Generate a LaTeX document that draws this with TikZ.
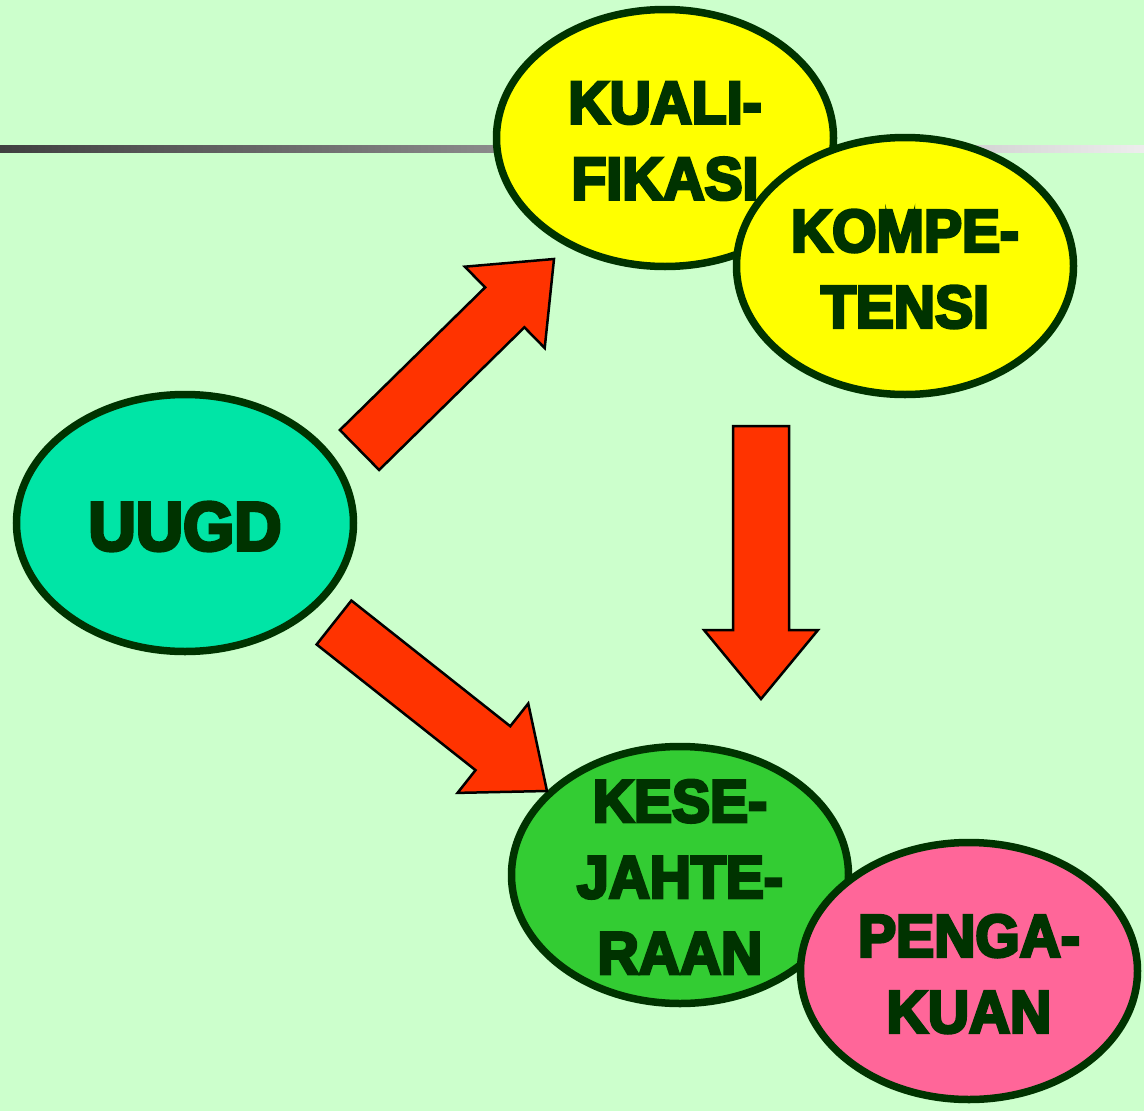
\documentclass[tikz,border=0pt]{standalone}
\usepackage{fontspec}
\usetikzlibrary{shapes.geometric,calc}
\newfontfamily\hurufTebal{Liberation Sans Bold}[FakeStretch=0.95,FakeBold=5]
\definecolor{latar}{HTML}{CCFFCC}
\definecolor{garis}{HTML}{003300}
\definecolor{kuning}{HTML}{FFFF00}
\definecolor{toska}{HTML}{00E5A6}
\definecolor{hijau}{HTML}{33CC33}
\definecolor{jambon}{HTML}{FF6699}
\definecolor{merah}{HTML}{FF3300}
\newcommand{\Panah}[2]{
    \coordinate (pangkal) at ($(#2)!69pt!(#1)$);
    \draw[panah] ($(#1)!28pt!90:(#2)$) -- ($(pangkal)!28pt!-90:(#1)$) -- ($(pangkal)!57pt!-90:(#1)$)
        -- (#2) -- ($(pangkal)!57pt!90:(#1)$) -- ($(pangkal)!28pt!90:(#1)$) -- ($(#1)!28pt!-90:(#2)$) -- cycle;
}
\begin{document}
\begin{tikzpicture}[x=1pt, y=-1pt,
    elips/.style={ellipse, draw=garis, line width=7.5pt, minimum width=337pt, minimum height=257pt, inner sep=0pt},
    teks/.style={text=garis, align=center, inner sep=0pt, font=\hurufTebal\fontsize{60}{76}\selectfont},
    panah/.style={draw=black, line width=2.5pt, fill=merah, line join=miter}]
    \useasboundingbox (0,0) rectangle (1144,1111);
    \fill[latar] (0,0) rectangle (1144,1111);
    \shade[left color=black!75, middle color=black!33, right color=black!7] (0,145) rectangle (1144,152);
    \node[elips, fill=kuning] (kual) at (665,138) {};
    \node[teks] (kual-t) at ($(kual)+(0,3)$) {KUALI-\\FIKASI};
    \node[elips, fill=kuning] (komp) at (905,266) {};
    \node[teks] (komp-t) at ($(komp)+(0,3)$) {KOMPE-\\TENSI};
    \node[elips, fill=toska] (uugd) at (185,523) {};
    \node[teks, font=\hurufTebal\fontsize{69}{80}\selectfont] (uugd-t) at ($(uugd)+(0,3.5)$) {UUGD};
    \node[elips, fill=hijau] (kese) at (680,875) {};
    \node[teks] (kese-t) at ($(kese)+(0,2)$) {KESE-\\JAHTE-\\RAAN};
    \node[elips, fill=jambon] (peng) at (969,971) {};
    \node[teks] (peng-t) at ($(peng)+(0,3)$) {PENGA-\\KUAN};
    \coordinate (p1a) at (359.5,450);
    \coordinate (p1b) at (554,259);
    \coordinate (p2a) at (334,622.5);
    \coordinate (p2b) at (547,791);
    \coordinate (p3a) at (761,426);
    \coordinate (p3b) at (761,699);
    \Panah{p1a}{p1b}
    \Panah{p2a}{p2b}
    \Panah{p3a}{p3b}
\end{tikzpicture}
\end{document}
